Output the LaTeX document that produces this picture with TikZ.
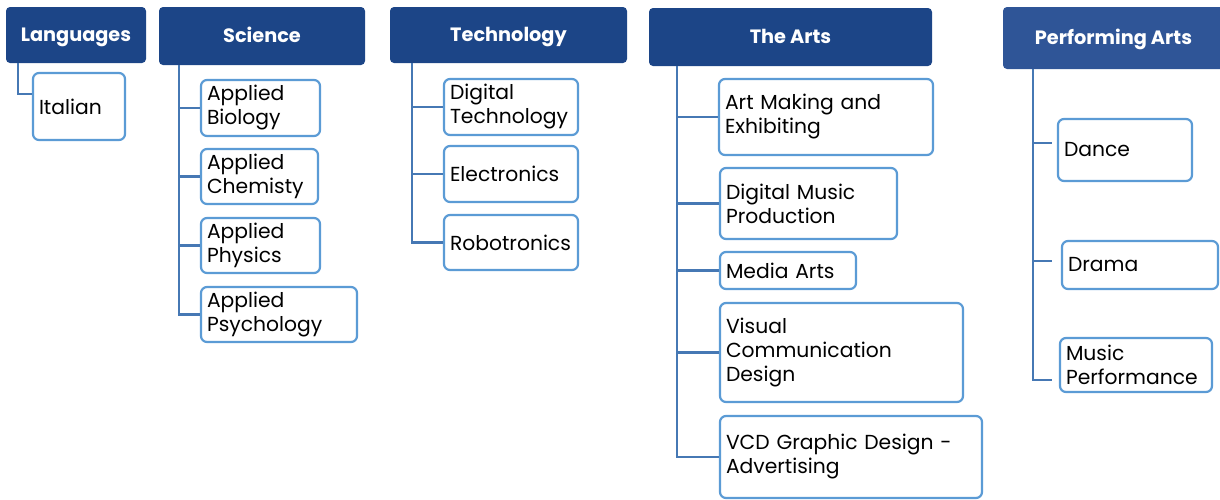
\documentclass[tikz,border=0pt]{standalone}
\usepackage{fontspec}
\setmainfont{Poppins}
\definecolor{headblue}{RGB}{28,69,135}
\definecolor{perfblue}{RGB}{47,85,151}
\definecolor{leafborder}{RGB}{91,155,213}
\definecolor{linecol}{RGB}{70,120,180}
\tikzset{
  leafbox/.style={draw=leafborder, line width=2.2pt, fill=white, rounded corners=6pt,
    inner xsep=6pt, inner ysep=0pt, align=left, font=\fontsize{20.3}{24}\selectfont, text=black},
  hdrbox/.style={rounded corners=4pt, inner sep=0pt, align=center, text height=13.5pt, text depth=0pt,
    font=\fontsize{19.3}{22}\selectfont\bfseries, text=white},
  conn/.style={draw=linecol, line width=2.8pt}
}
\newcommand\leaf[6]{%
  \pgfmathsetmacro\lw{#4-#2}\pgfmathsetmacro\lh{#5-#3}\pgfmathsetmacro\tw{#4-#2-12}%
  \node[leafbox, text width=\tw pt, minimum width=\lw pt, minimum height=\lh pt] (#1) at ({(#2+#4)/2},{(#3+#5)/2}) {#6};}
\newcommand\hdr[7]{%
  \pgfmathsetmacro\lw{#4-#2}\pgfmathsetmacro\lh{#5-#3}%
  \node[hdrbox, fill=#7, minimum width=\lw pt, minimum height=\lh pt] (#1) at ({(#2+#4)/2},{(#3+#5)/2}) {#6};}
\begin{document}
\begin{tikzpicture}[x=1pt,y=-1pt]
\useasboundingbox (0,0) rectangle (1220,499);
% headers
\hdr{lang}{6}{7}{146}{63}{Languages}{headblue}
\hdr{sci}{159}{7}{365}{65}{Science}{headblue}
\hdr{tech}{390}{7}{627}{63}{Technology}{headblue}
\hdr{arts}{649}{8}{932}{66}{The Arts}{headblue}
\hdr{perf}{1003}{7}{1224}{69}{Performing Arts}{perfblue}
% leaves
\leaf{ital}{33}{73}{125}{140}{Italian}
\leaf{bio}{201}{80}{320}{136}{Applied\\Biology}
\leaf{chem}{201}{149}{318}{204}{Applied\\Chemisty}
\leaf{phys}{201}{218}{320}{273}{Applied\\Physics}
\leaf{psych}{201}{287}{357}{342}{Applied\\Psychology}
\leaf{digt}{444}{79}{578}{135}{Digital\\Technology}
\leaf{elec}{444}{146}{578}{202}{Electronics}
\leaf{robo}{444}{215}{578}{270}{Robotronics}
\leaf{artm}{719}{79}{933}{155}{Art Making and\\Exhibiting}
\leaf{dmp}{720}{168}{897}{239}{Digital Music\\Production}
\leaf{media}{720}{252}{856}{289}{Media Arts}
\leaf{vcd}{720}{303}{963}{402}{Visual\\Communication\\Design}
\leaf{vcdg}{720}{416}{982}{498}{VCD Graphic Design -\\Advertising}
\leaf{dance}{1058}{119}{1192}{181}{Dance}
\leaf{drama}{1062}{241}{1218}{289}{Drama}
\leaf{music}{1060}{338}{1212}{392}{Music\\Performance}
% trunks
\coordinate (langT) at (18,63);
\coordinate (sciT) at (179,65);
\coordinate (techT) at (412,63);
\coordinate (artsT) at (677,66);
\coordinate (perfT) at (1033,69);
\coordinate (italC) at ([yshift=12.5pt]ital.west);
\coordinate (danceC) at ([xshift=-5pt,yshift=7pt]dance.west);
\coordinate (dramaC) at ([xshift=-9pt,yshift=4pt]drama.west);
\coordinate (musicC) at ([xshift=-7pt,yshift=-15pt]music.west);
\draw[conn] (langT) |- (italC);
\draw[conn] (sciT) |- (psych.west);
\foreach \n in {bio,chem,phys} \draw[conn] (sciT |- \n.west) -- (\n.west);
\draw[conn] (techT) |- (robo.west);
\foreach \n in {digt,elec} \draw[conn] (techT |- \n.west) -- (\n.west);
\draw[conn] (artsT) |- (vcdg.west);
\foreach \n in {artm,dmp,media,vcd} \draw[conn] (artsT |- \n.west) -- (\n.west);
\draw[conn] (perfT) |- (musicC);
\foreach \n in {danceC,dramaC} \draw[conn] (perfT |- \n) -- (\n);
\end{tikzpicture}
\end{document}
